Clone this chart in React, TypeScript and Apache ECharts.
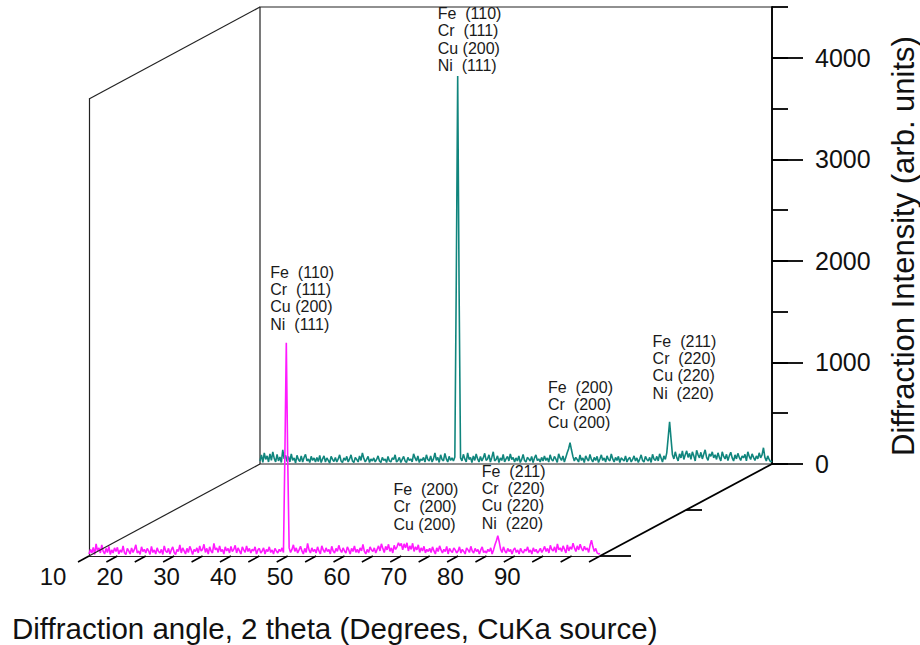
import { useEffect, useRef } from "react";
import * as echarts from "echarts";

// 2-theta scan range (degrees) and step between recorded points
const ANGLE_MIN = 10;
const ANGLE_MAX = 100;
const ANGLE_STEP = 0.25;

const X_TICK_LABELS = [10, 20, 30, 40, 50, 60, 70, 80, 90];
const X_MINOR_TICKS = [10, 15, 20, 25, 30, 35, 40, 45, 50, 55, 60, 65, 70, 75, 80, 85, 90, 95, 100];
const Y_MAX = 4500;
const Y_MAJOR_TICKS = [0, 1000, 2000, 3000, 4000];

// Rear trace (teal): intensity every 0.25 degree, one row per 5 degrees
const backPattern = [
  30, 90, 15, 110, 45, 80, 20, 100, 35, 120, 55, 20, 95, 30, 70, 15, 140, 50, 85, 25,
  75, 20, 100, 35, 60, 10, 85, 45, 25, 80, 20, 65, 95, 30, 50, 15, 75, 35, 60, 20,
  65, 25, 85, 15, 50, 80, 20, 60, 35, 10, 75, 45, 25, 65, 20, 50, 90, 30, 15, 60,
  35, 75, 20, 50, 90, 30, 15, 65, 45, 20, 80, 35, 110, 55, 20, 45, 75, 15, 50, 30,
  60, 20, 45, 80, 30, 15, 65, 35, 50, 15, 75, 30, 20, 60, 45, 90, 20, 35, 65, 15,
  45, 75, 30, 15, 65, 35, 50, 20, 100, 60, 30, 80, 15, 50, 35, 65, 20, 90, 45, 30,
  80, 20, 50, 110, 35, 65, 15, 90, 45, 30, 105, 50, 20, 75, 35, 60, 30, 70, 1800, 3820,
  1700, 60, 30, 95, 50, 20, 110, 45, 65, 15, 80, 35, 100, 50, 20, 75, 30, 60, 105, 35,
  50, 90, 20, 65, 120, 30, 45, 80, 15, 60, 35, 95, 20, 50, 75, 30, 100, 45, 65, 20,
  60, 30, 80, 15, 45, 95, 35, 20, 65, 50, 30, 75, 15, 60, 90, 35, 50, 20, 65, 30,
  80, 35, 60, 20, 90, 45, 30, 75, 50, 15, 100, 60, 35, 80, 20, 65, 110, 150, 210, 140,
  75, 30, 65, 45, 20, 90, 35, 60, 15, 80, 50, 30, 95, 45, 20, 65, 35, 75, 15, 50,
  90, 35, 60, 20, 80, 45, 30, 100, 50, 20, 65, 35, 75, 15, 60, 45, 30, 80, 20, 50,
  65, 20, 45, 80, 30, 60, 15, 50, 90, 35, 20, 75, 45, 30, 65, 15, 95, 50, 35, 75,
  30, 100, 60, 20, 80, 45, 110, 260, 415, 250, 90, 50, 120, 65, 30, 100, 60, 130, 45, 90,
  130, 65, 105, 45, 120, 80, 30, 135, 90, 60, 115, 50, 95, 140, 65, 35, 100, 75, 120, 60,
  90, 45, 110, 65, 30, 120, 75, 50, 95, 35, 80, 115, 60, 30, 90, 50, 105, 65, 35, 80,
  60, 95, 30, 120, 75, 45, 100, 65, 35, 80, 50, 110, 60, 90, 160, 65, 30, 80, 45, 20,
  30,
];

// Front trace (magenta), same angle grid
const frontPattern = [
  20, 65, 30, 85, 15, 120, 50, 80, 30, 110, 45, 20, 75, 35, 95, 15, 60, 30, 80, 45,
  85, 20, 60, 35, 100, 30, 15, 75, 50, 20, 80, 35, 65, 110, 30, 50, 15, 90, 45, 65,
  30, 75, 50, 15, 95, 35, 60, 20, 80, 45, 30, 65, 15, 100, 50, 35, 75, 20, 60, 90,
  35, 15, 65, 45, 110, 30, 80, 50, 20, 75, 35, 95, 60, 15, 65, 45, 80, 30, 100, 50,
  65, 115, 35, 75, 20, 90, 50, 30, 125, 60, 80, 35, 100, 45, 65, 20, 90, 50, 75, 30,
  95, 45, 65, 105, 30, 80, 50, 20, 90, 60, 35, 100, 45, 75, 30, 65, 50, 90, 20, 60,
  75, 30, 50, 80, 20, 65, 45, 90, 35, 60, 20, 75, 50, 30, 65, 45, 80, 35, 1000, 2100,
  950, 80, 35, 65, 110, 45, 80, 30, 60, 95, 50, 20, 75, 35, 125, 60, 30, 80, 45, 65,
  30, 90, 50, 20, 100, 60, 35, 80, 45, 65, 20, 95, 50, 30, 75, 45, 105, 60, 35, 80,
  50, 30, 90, 60, 20, 75, 45, 100, 35, 65, 30, 80, 50, 115, 45, 20, 65, 35, 90, 60,
  45, 80, 30, 65, 100, 50, 120, 75, 35, 95, 60, 115, 45, 80, 30, 105, 65, 90, 130, 100,
  125, 60, 120, 80, 130, 50, 100, 65, 125, 45, 90, 60, 110, 35, 80, 50, 95, 30, 65, 45,
  75, 35, 90, 50, 20, 80, 45, 100, 60, 30, 65, 45, 95, 20, 75, 50, 35, 80, 60, 30,
  50, 90, 30, 65, 45, 20, 80, 60, 35, 95, 50, 30, 75, 45, 65, 20, 60, 90, 35, 50,
  30, 65, 45, 80, 20, 60, 110, 150, 200, 140, 65, 35, 90, 50, 30, 75, 45, 65, 20, 60,
  80, 35, 60, 20, 75, 45, 30, 65, 50, 90, 35, 60, 20, 80, 45, 65, 30, 50, 75, 35,
  60, 95, 45, 75, 30, 105, 65, 50, 90, 35, 120, 60, 80, 45, 100, 65, 30, 110, 50, 90,
  65, 125, 80, 45, 100, 60, 115, 75, 50, 95, 60, 80, 35, 105, 155, 90, 45, 75, 30, 20,
  25,
];

// Reflection assignments, anchored at the peak angle of each trace
const LABEL_110 = ["Fe  (110)", "Cr  (111)", "Cu (200)", "Ni  (111)"];
const LABEL_200 = ["Fe  (200)", "Cr  (200)", "Cu (200)"];
const LABEL_211 = ["Fe  (211)", "Cr  (220)", "Cu (220)", "Ni  (220)"];
const frontPeakAngles = [44.75, 64.5, 82.0];
const backPeakAngles = [44.75, 64.5, 82.0];
const peakLabels = [LABEL_110, LABEL_200, LABEL_211];

// text block placement relative to the peak tip (px)
const FRONT_LABEL_SHIFT = [[-16, -10], [-5, -10], [-16, -4]];
const BACK_LABEL_SHIFT = [[-20, -2], [-22, -12], [-17, -20]];

const TEAL = "#10857d";
const MAGENTA = "#ff1aff";
const FRAME = "#222";
const FONT = '"Liberation Sans", Arial, sans-serif';

const angleAt = (i: number) => ANGLE_MIN + i * ANGLE_STEP;
const indexOf = (a: number) => Math.round((a - ANGLE_MIN) / ANGLE_STEP);

export default function App() {
  const ref = useRef<HTMLDivElement>(null);

  useEffect(() => {
    document.body.style.margin = "0";
    if (!ref.current) return;
    const chart = echarts.init(ref.current, undefined, { renderer: "svg" });

    const frontData = frontPattern.map((v, i) => [angleAt(i), v]);
    const backData = backPattern.map((v, i) => [angleAt(i), v]);

    chart.setOption({
      animation: false,
      backgroundColor: "#fff",
      grid: [
        { left: 89, top: 99, width: 511, height: 457, show: false, containLabel: false, outerBoundsMode: "none" },
        {
          left: 260, top: 7, width: 512, height: 457, show: true,
          borderColor: FRAME, borderWidth: 1.2, backgroundColor: "transparent",
          containLabel: false, outerBoundsMode: "none",
        },
      ],
      xAxis: [
        {
          gridIndex: 0, type: "value", min: ANGLE_MIN, max: ANGLE_MAX, interval: 10,
          axisLine: { show: true, onZero: false, lineStyle: { color: FRAME, width: 1.2 } },
          axisTick: { show: false },
          splitLine: { show: false },
          axisLabel: {
            show: true, margin: 8, fontSize: 24, color: "#111", fontFamily: FONT,
            padding: [0, 72, 0, 0],
            formatter: (v: number) => (X_TICK_LABELS.includes(v) ? String(v) : ""),
          },
        },
        { gridIndex: 1, type: "value", min: ANGLE_MIN, max: ANGLE_MAX, show: false },
      ],
      yAxis: [
        {
          gridIndex: 0, type: "value", min: 0, max: Y_MAX,
          axisLine: { show: true, onZero: false, lineStyle: { color: FRAME, width: 1.2 } },
          axisTick: { show: false },
          axisLabel: { show: false },
          splitLine: { show: false },
        },
        {
          gridIndex: 1, type: "value", position: "right", min: 0, max: Y_MAX, interval: 500,
          axisLine: { show: true, onZero: false, lineStyle: { color: "#000", width: 1.8 } },
          axisTick: { show: true, length: 16, lineStyle: { color: "#000", width: 1.8 } },
          axisLabel: { show: false },
          splitLine: { show: false },
        },
        {
          gridIndex: 1, type: "value", position: "right", min: 0, max: Y_MAX, interval: 1000,
          axisLine: { show: false, onZero: false },
          axisTick: { show: true, length: 31, customValues: Y_MAJOR_TICKS, lineStyle: { color: "#000", width: 1.8 } },
          axisLabel: {
            show: true, customValues: Y_MAJOR_TICKS, margin: 43, fontSize: 25, color: "#111",
            fontFamily: FONT, align: "left", padding: [0, 0, 26, 0],
            formatter: (v: number) => String(v),
          },
          splitLine: { show: false },
        },
      ],
      series: [
        {
          type: "line", xAxisIndex: 1, yAxisIndex: 1, data: backData,
          symbol: "none", lineStyle: { color: TEAL, width: 1.6 }, itemStyle: { color: TEAL }, z: 3,
        },
        {
          type: "line", xAxisIndex: 0, yAxisIndex: 0, data: frontData,
          symbol: "none", lineStyle: { color: MAGENTA, width: 1.6 }, itemStyle: { color: MAGENTA }, z: 5,
        },
      ],
    });

    const px = (grid: number, pt: number[]) => chart.convertToPixel({ gridIndex: grid }, pt) as number[];
    const line = (a: number[], b: number[], width = 1.2, color = FRAME) => ({
      type: "line", silent: true, z: 10,
      shape: { x1: a[0], y1: a[1], x2: b[0], y2: b[1] },
      style: { stroke: color, lineWidth: width },
    });

    const graphics: any[] = [];

    // depth edges joining the front and rear planes
    const f0 = px(0, [ANGLE_MIN, 0]);
    const b0 = px(1, [ANGLE_MIN, 0]);
    const fTop = px(0, [ANGLE_MIN, Y_MAX]);
    const bTop = px(1, [ANGLE_MIN, Y_MAX]);
    const fEnd = px(0, [ANGLE_MAX, 0]);
    const bEnd = px(1, [ANGLE_MAX, 0]);
    graphics.push(line(f0, b0));
    graphics.push(line(fTop, bTop));
    graphics.push(line(fEnd, bEnd, 1.8, "#000"));

    // ticks on the depth axis
    const mid = [(fEnd[0] + bEnd[0]) / 2, (fEnd[1] + bEnd[1]) / 2];
    graphics.push(line(fEnd, [fEnd[0] + 31, fEnd[1]], 1.8, "#000"));
    graphics.push(line(mid, [mid[0] + 16, mid[1]], 1.8, "#000"));

    // slanted angle ticks along the front baseline, pointing toward the viewer
    const dx = f0[0] - b0[0];
    const dy = f0[1] - b0[1];
    const len = Math.hypot(dx, dy);
    const tx = (dx / len) * 12.5;
    const ty = (dy / len) * 12.5;
    X_MINOR_TICKS.forEach((a) => {
      const p = px(0, [a, 0]);
      graphics.push(line(p, [p[0] + tx, p[1] + ty], 1.6, "#000"));
    });

    // reflection labels above each peak
    const addLabels = (grid: number, data: number[], angles: number[], shifts: number[][]) => {
      angles.forEach((a, k) => {
        const p = px(grid, [a, data[indexOf(a)]]);
        graphics.push({
          type: "text", silent: true, z: 12,
          x: p[0] + shifts[k][0], y: p[1] + shifts[k][1],
          style: {
            text: peakLabels[k].join("\n"), font: `16px ${FONT}`, lineHeight: 17.3,
            fill: "#1a1a1a", align: "left", verticalAlign: "bottom",
          },
        });
      });
    };
    addLabels(0, frontPattern, frontPeakAngles, FRONT_LABEL_SHIFT);
    addLabels(1, backPattern, backPeakAngles, BACK_LABEL_SHIFT);

    // axis titles
    graphics.push({
      type: "text", silent: true, z: 12, x: 12, y: 628,
      style: {
        text: "Diffraction angle, 2 theta (Degrees, CuKa source)", font: `29.5px ${FONT}`,
        fill: "#111", align: "left", verticalAlign: "middle",
      },
    });
    graphics.push({
      type: "text", silent: true, z: 12, x: 903, y: 246, rotation: Math.PI / 2,
      style: {
        text: "Diffraction Intensity (arb. units)", font: `31px ${FONT}`,
        fill: "#111", align: "center", verticalAlign: "middle",
      },
    });

    chart.setOption({ graphic: graphics });

    return () => chart.dispose();
  }, []);

  return <div ref={ref} style={{ width: 920, height: 645 }} />;
}
